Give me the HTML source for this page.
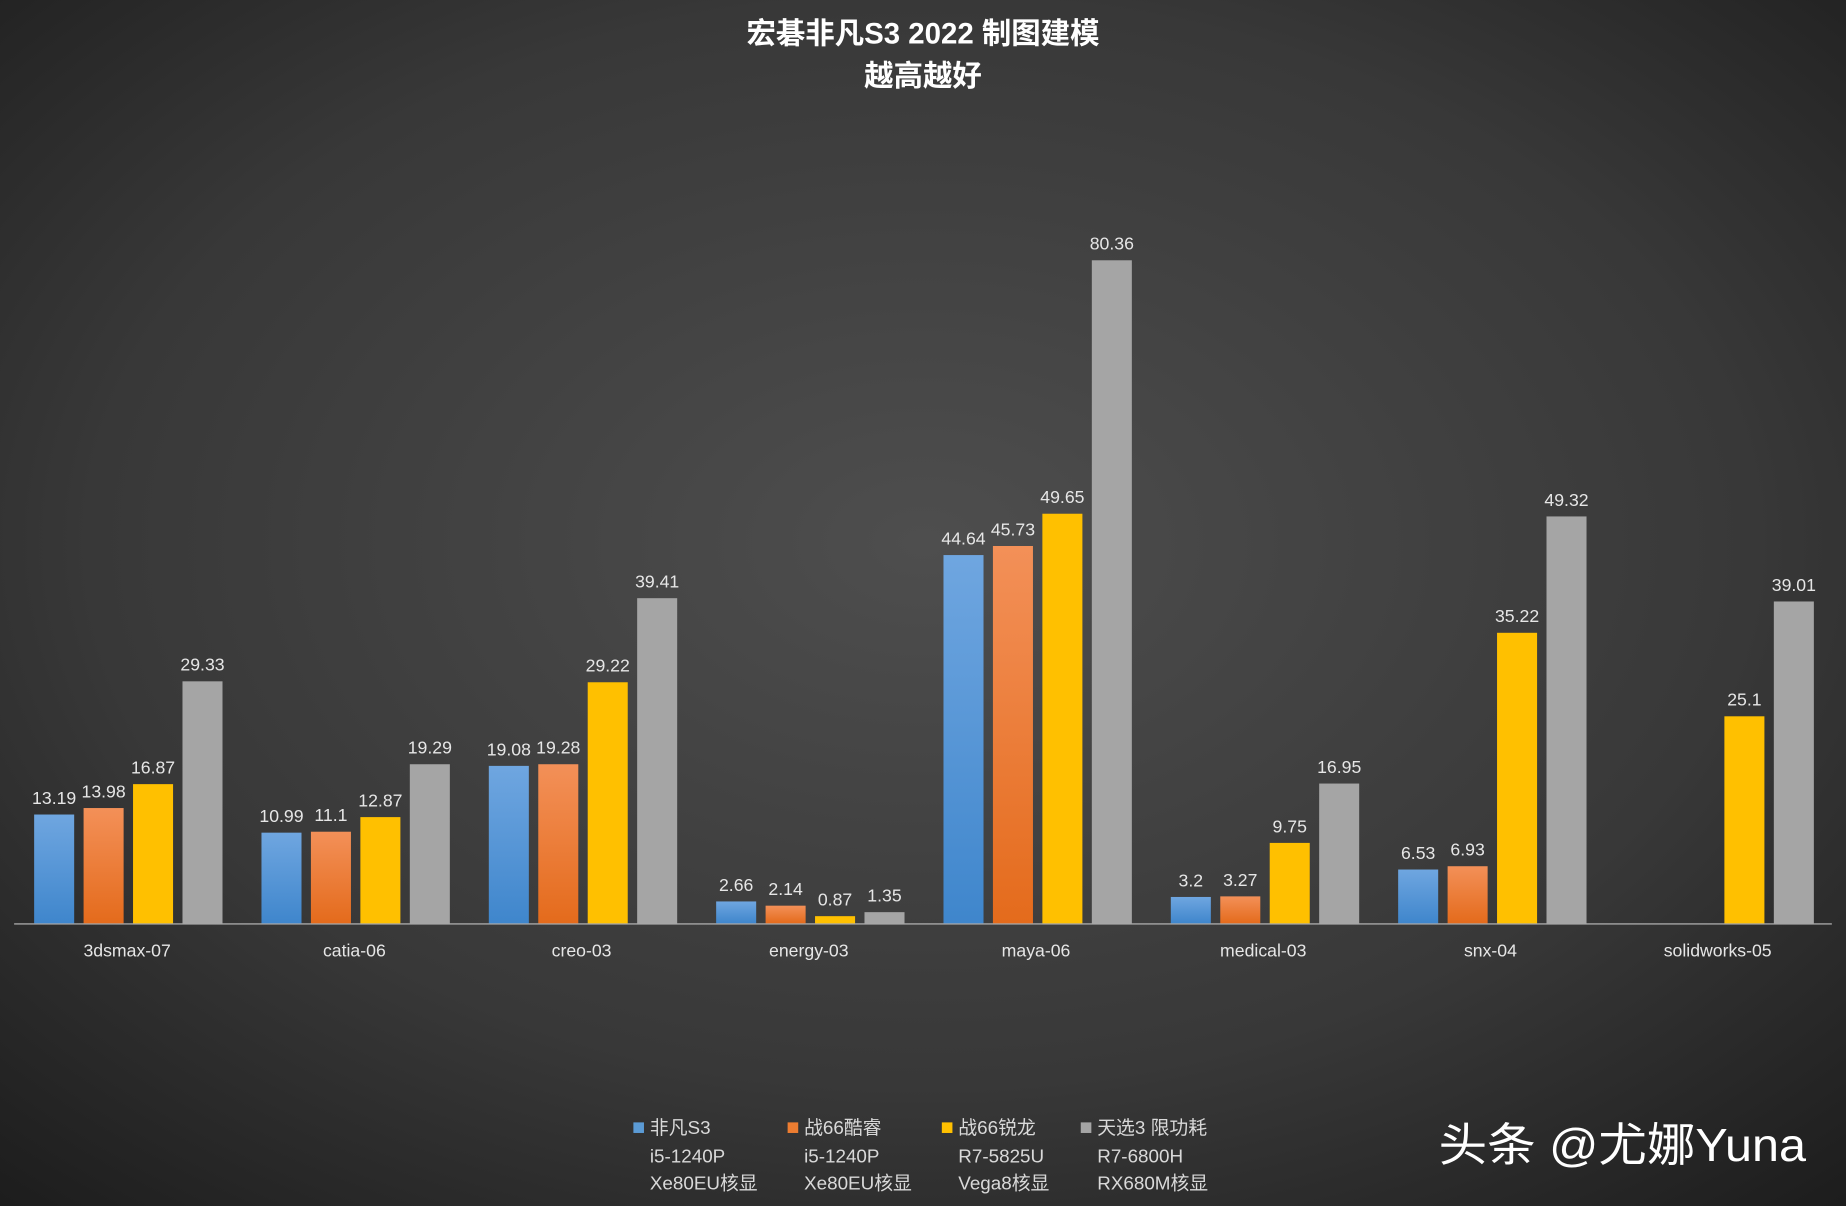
<!DOCTYPE html>
<html><head><meta charset="utf-8"><style>
html,body{margin:0;padding:0;background:#2a2a2a}
svg{display:block}
text{font-family:"Liberation Sans","Noto Sans CJK SC",sans-serif}
</style></head><body>
<svg width="1846" height="1206" viewBox="0 0 1568 1024" preserveAspectRatio="none" xmlns="http://www.w3.org/2000/svg">
<defs>
<radialGradient id="bg" cx="50%" cy="45%" r="75%">
<stop offset="0" stop-color="#4e4e4e"/><stop offset="0.6" stop-color="#383838"/><stop offset="1" stop-color="#1c1c1c"/>
</radialGradient>
<linearGradient id="gb" x1="0" y1="0" x2="0" y2="1"><stop offset="0" stop-color="#6fa6e0"/><stop offset="1" stop-color="#3f86cc"/></linearGradient>
<linearGradient id="go" x1="0" y1="0" x2="0" y2="1"><stop offset="0" stop-color="#f39058"/><stop offset="1" stop-color="#e46b1c"/></linearGradient>
</defs>
<rect width="1568" height="1024" fill="url(#bg)"/>
<text x="784" y="37" fill="#fff" font-size="25" font-weight="bold" text-anchor="middle">宏碁非凡S3 2022 制图建模</text>
<text x="784" y="73" fill="#fff" font-size="25" font-weight="bold" text-anchor="middle">越高越好</text>
<line x1="12" y1="784.5" x2="1556" y2="784.5" stroke="#bfbfbf" stroke-width="1"/>
<g>
<rect x="29" y="691.6" width="34" height="92.4" fill="url(#gb)"/>
<rect x="71" y="686.1" width="34" height="97.9" fill="url(#go)"/>
<rect x="113" y="665.8" width="34" height="118.2" fill="#ffc000"/>
<rect x="155" y="578.5" width="34" height="205.5" fill="#a5a5a5"/>
<rect x="222.1" y="707" width="34" height="77" fill="url(#gb)"/>
<rect x="264.1" y="706.2" width="34" height="77.8" fill="url(#go)"/>
<rect x="306.1" y="693.8" width="34" height="90.2" fill="#ffc000"/>
<rect x="348.1" y="648.9" width="34" height="135.1" fill="#a5a5a5"/>
<rect x="415.2" y="650.3" width="34" height="133.7" fill="url(#gb)"/>
<rect x="457.2" y="648.9" width="34" height="135.1" fill="url(#go)"/>
<rect x="499.2" y="579.3" width="34" height="204.7" fill="#ffc000"/>
<rect x="541.2" y="507.9" width="34" height="276.1" fill="#a5a5a5"/>
<rect x="608.3" y="765.4" width="34" height="18.6" fill="url(#gb)"/>
<rect x="650.3" y="769" width="34" height="15" fill="url(#go)"/>
<rect x="692.3" y="777.9" width="34" height="6.1" fill="#ffc000"/>
<rect x="734.3" y="774.5" width="34" height="9.5" fill="#a5a5a5"/>
<rect x="801.4" y="471.3" width="34" height="312.7" fill="url(#gb)"/>
<rect x="843.4" y="463.6" width="34" height="320.4" fill="url(#go)"/>
<rect x="885.4" y="436.2" width="34" height="347.8" fill="#ffc000"/>
<rect x="927.4" y="221" width="34" height="563" fill="#a5a5a5"/>
<rect x="994.5" y="761.6" width="34" height="22.4" fill="url(#gb)"/>
<rect x="1036.5" y="761.1" width="34" height="22.9" fill="url(#go)"/>
<rect x="1078.5" y="715.7" width="34" height="68.3" fill="#ffc000"/>
<rect x="1120.5" y="665.3" width="34" height="118.7" fill="#a5a5a5"/>
<rect x="1187.6" y="738.3" width="34" height="45.7" fill="url(#gb)"/>
<rect x="1229.6" y="735.5" width="34" height="48.5" fill="url(#go)"/>
<rect x="1271.6" y="537.3" width="34" height="246.7" fill="#ffc000"/>
<rect x="1313.6" y="438.5" width="34" height="345.5" fill="#a5a5a5"/>
<rect x="1464.7" y="608.2" width="34" height="175.8" fill="#ffc000"/>
<rect x="1506.7" y="510.7" width="34" height="273.3" fill="#a5a5a5"/>
</g>
<g font-size="15" fill="#e6e6e6" text-anchor="middle">
<text x="46" y="682.6">13.19</text><text x="88" y="677.1">13.98</text><text x="130" y="656.8">16.87</text><text x="172" y="569.5">29.33</text>
<text x="239.1" y="698">10.99</text><text x="281.1" y="697.2">11.1</text><text x="323.1" y="684.8">12.87</text><text x="365.1" y="639.9">19.29</text>
<text x="432.2" y="641.3">19.08</text><text x="474.2" y="639.9">19.28</text><text x="516.2" y="570.3">29.22</text><text x="558.2" y="498.9">39.41</text>
<text x="625.3" y="756.4">2.66</text><text x="667.3" y="760">2.14</text><text x="709.3" y="768.9">0.87</text><text x="751.3" y="765.5">1.35</text>
<text x="818.4" y="462.3">44.64</text><text x="860.4" y="454.6">45.73</text><text x="902.4" y="427.2">49.65</text><text x="944.4" y="212">80.36</text>
<text x="1011.5" y="752.6">3.2</text><text x="1053.5" y="752.1">3.27</text><text x="1095.5" y="706.7">9.75</text><text x="1137.5" y="656.3">16.95</text>
<text x="1204.6" y="729.3">6.53</text><text x="1246.6" y="726.5">6.93</text><text x="1288.6" y="528.3">35.22</text><text x="1330.6" y="429.5">49.32</text>
<text x="1481.7" y="599.2">25.1</text><text x="1523.7" y="501.7">39.01</text>
</g>
<g font-size="15" fill="#e6e6e6" text-anchor="middle">
<text x="108" y="812">3dsmax-07</text><text x="301" y="812">catia-06</text><text x="494" y="812">creo-03</text><text x="687" y="812">energy-03</text><text x="880" y="812">maya-06</text><text x="1073" y="812">medical-03</text><text x="1266" y="812">snx-04</text><text x="1459" y="812">solidworks-05</text>
</g>
<g font-size="16" fill="#d9d9d9">
<rect x="538" y="953" width="9" height="9" fill="#5b9bd5"/>
<text x="552" y="963">非凡S3</text><text x="552" y="987">i5-1240P</text><text x="552" y="1010">Xe80EU核显</text>
<rect x="669" y="953" width="9" height="9" fill="#ed7d31"/>
<text x="683" y="963">战66酷睿</text><text x="683" y="987">i5-1240P</text><text x="683" y="1010">Xe80EU核显</text>
<rect x="800" y="953" width="9" height="9" fill="#ffc000"/>
<text x="814" y="963">战66锐龙</text><text x="814" y="987">R7-5825U</text><text x="814" y="1010">Vega8核显</text>
<rect x="918" y="953" width="9" height="9" fill="#a5a5a5"/>
<text x="932" y="963">天选3 限功耗</text><text x="932" y="987">R7-6800H</text><text x="932" y="1010">RX680M核显</text>
</g>
<text x="1222" y="986" fill="#fff" font-size="39" textLength="312" lengthAdjust="spacingAndGlyphs">头条 @尤娜Yuna</text>
</svg>
</body></html>
